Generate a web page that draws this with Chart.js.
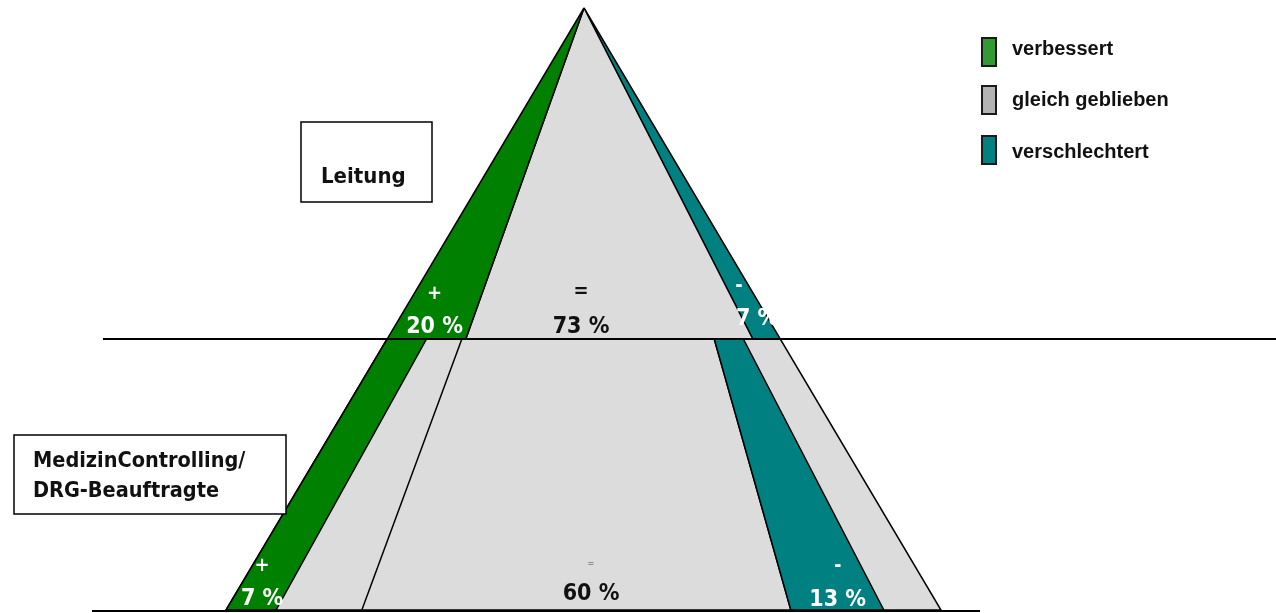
<!DOCTYPE html>
<html>
<head>
<meta charset="utf-8">
<script src="https://cdn.jsdelivr.net/npm/chart.js@4/dist/chart.umd.min.js"></script>
<style>
  html, body { margin: 0; padding: 0; background: #fff; }
  #wrap { width: 1276px; height: 613px; }
</style>
</head>
<body>
<div id="wrap"><canvas id="pyr" width="1276" height="613"></canvas></div>
<script>
/* ---- data ------------------------------------------------------ */
const tierBoxes    = [['Leitung'], ['MedizinControlling/', 'DRG-Beauftragte']];
const improved     = [20, 7];    // verbessert  (%)
const same         = [73, 60];   // gleich geblieben (%)
const worse        = [7, 13];    // verschlechtert (%)
const legendLabels = ['verbessert', 'gleich geblieben', 'verschlechtert'];

/* ---- layout (chart units == px, axes hidden) --------------------- */
const APEX   = { x: 584, y: 8 };
const SEAM_Y = 339, BASE_Y = 610;
const BASE_L = 226, BASE_R = 941;
const LEFT_REST = 0.6;                          // part of the unassigned rest drawn left
const SEAM_CUT  = [0, .10, .19, .832, .906, 1]; // band stops of lower tier at its top edge

const C_GREEN = '#008000', C_GRAY = '#dcdcdc', C_TEAL = '#008080';

const edgeL = y => APEX.x + (BASE_L - APEX.x) * (y - APEX.y) / (BASE_Y - APEX.y);
const edgeR = y => APEX.x + (BASE_R - APEX.x) * (y - APEX.y) / (BASE_Y - APEX.y);
const at    = (y, f) => edgeL(y) + (edgeR(y) - edgeL(y)) * f;
const pt    = (x, y) => ({ x, y });

/* upper tier: all bands start at the apex */
const upStops = [0, improved[0] / 100, (improved[0] + same[0]) / 100, 1];
/* lower tier: stops at the base */
const rest     = 100 - improved[1] - same[1] - worse[1];
const lowStops = [0, improved[1], improved[1] + rest * LEFT_REST,
                  improved[1] + rest * LEFT_REST + same[1],
                  improved[1] + rest * LEFT_REST + same[1] + worse[1], 100].map(v => v / 100);

const upBand  = i => [pt(APEX.x, APEX.y), pt(at(SEAM_Y, upStops[i]), SEAM_Y),
                      pt(at(SEAM_Y, upStops[i + 1]), SEAM_Y), pt(APEX.x, APEX.y)];
const lowBand = (a, b) => [pt(at(SEAM_Y, SEAM_CUT[a]), SEAM_Y), pt(at(SEAM_Y, SEAM_CUT[b]), SEAM_Y),
                           pt(at(BASE_Y, lowStops[b]), BASE_Y), pt(at(BASE_Y, lowStops[a]), BASE_Y),
                           pt(at(SEAM_Y, SEAM_CUT[a]), SEAM_Y)];

const shape = (data, fill, order) => ({
  data, order, showLine: true, fill: 'shape', backgroundColor: fill,
  borderColor: '#000', borderWidth: 1.5, pointRadius: 0, tension: 0
});
const rule = (x1, x2, y) => ({
  data: [pt(x1, y), pt(x2, y)], order: 0, showLine: true, fill: false,
  borderColor: '#000', borderWidth: 1.8, pointRadius: 0
});

const datasets = [
  rule(103, 1276, SEAM_Y),
  rule(92, 980, BASE_Y + 1),
  shape(upBand(0), C_GREEN, 1),
  shape(upBand(1), C_GRAY, 1),
  shape(upBand(2), C_TEAL, 1),
  shape(lowBand(0, 1), C_GREEN, 1),
  shape(lowBand(2, 3), C_GRAY, 2),
  shape(lowBand(3, 4), C_TEAL, 1),
  shape(lowBand(0, 5), C_GRAY, 3)
];

/* ---- annotations: labels, boxes, legend -------------------------- */
const COND     = '"DejaVu Sans Condensed", "DejaVu Sans", sans-serif';
const PCT_FONT = 'bold 23px ' + COND;

const annotate = {
  id: 'annotate',
  beforeDraw(chart) {
    const c = chart.ctx;
    c.save(); c.fillStyle = '#fff'; c.fillRect(0, 0, chart.width, chart.height); c.restore();
  },
  afterDraw(chart) {
    const c = chart.ctx, sx = chart.scales.x, sy = chart.scales.y;
    const X = v => sx.getPixelForValue(v), Y = v => sy.getPixelForValue(v);
    c.save();
    c.textAlign = 'center'; c.textBaseline = 'alphabetic';

    // sign above, value below (value given as baseline)
    const pair = (x, signY, valY, sign, val, col, small) => {
      c.textBaseline = 'middle';
      c.fillStyle = small ? '#8a8a8a' : col;
      c.font = small ? 'bold 9px ' + COND : 'bold 20px ' + COND;
      c.fillText(sign, X(x), Y(signY));
      c.textBaseline = 'alphabetic';
      c.fillStyle = col; c.font = PCT_FONT;
      c.fillText(val + ' %', X(x), Y(valY));
    };
    const lerpLow = (i, y) => at(SEAM_Y, SEAM_CUT[i]) +
      (at(BASE_Y, lowStops[i]) - at(SEAM_Y, SEAM_CUT[i])) * (y - SEAM_Y) / (BASE_Y - SEAM_Y);
    const upLine = (i, y) => APEX.x + (at(SEAM_Y, upStops[i]) - APEX.x) * (y - APEX.y) / (SEAM_Y - APEX.y);

    // upper tier
    pair((upLine(0, 322) + upLine(1, 322)) / 2, 294, 333, '+', improved[0], '#fff');
    pair(APEX.x - 3, 292, 333, '=', same[0], '#111');
    c.fillStyle = '#fff'; c.font = 'bold 20px ' + COND; c.textBaseline = 'middle';
    c.fillText('-', X(739), Y(286));
    c.textAlign = 'left'; c.textBaseline = 'alphabetic'; c.font = PCT_FONT;
    c.fillText(worse[0] + ' %', X(736), Y(325));
    c.textAlign = 'center';

    // lower tier
    pair((lerpLow(0, 596) + lerpLow(1, 596)) / 2 + 3, 566, 605, '+', improved[1], '#fff');
    pair(591, 564, 600, '=', same[1], '#111', true);
    pair((lerpLow(3, 596) + lerpLow(4, 596)) / 2 + 6, 566, 606, '-', worse[1], '#fff');

    // tier boxes
    c.textAlign = 'left'; c.strokeStyle = '#000'; c.lineWidth = 1.5;
    const boxes = [{ x: 301, y: 122, w: 131, h: 80, tx: 321, ty: [183], fs: 22 },
                   { x: 14, y: 435, w: 272, h: 79, tx: 33, ty: [467, 497], fs: 21.5 }];
    boxes.forEach((b, i) => {
      c.fillStyle = '#fff'; c.fillRect(X(b.x), Y(b.y), b.w, b.h);
      c.strokeRect(X(b.x), Y(b.y), b.w, b.h);
      c.fillStyle = '#111'; c.font = 'bold ' + b.fs + 'px ' + COND;
      tierBoxes[i].forEach((t, k) => c.fillText(t, X(b.tx), Y(b.ty[k])));
    });

    // legend
    const legCols = ['#339933', '#b3b3b3', '#008080'];
    const markTop = [38, 86, 136], textBase = [55, 106, 158];
    c.font = 'bold 20px "Liberation Sans", Arial, sans-serif';
    legendLabels.forEach((t, i) => {
      c.fillStyle = legCols[i]; c.fillRect(X(982), Y(markTop[i]), 14, 28);
      c.strokeStyle = '#1a1a1a'; c.lineWidth = 2; c.strokeRect(X(982), Y(markTop[i]), 14, 28);
      c.fillStyle = '#111'; c.fillText(t, X(1012), Y(textBase[i]));
    });
    c.restore();
  }
};

new Chart(document.getElementById('pyr'), {
  type: 'scatter',
  data: { datasets },
  options: {
    responsive: false, animation: false, events: [],
    layout: { padding: 0 },
    plugins: { legend: { display: false }, tooltip: { enabled: false } },
    scales: {
      x: { type: 'linear', min: 0, max: 1276, display: false },
      y: { type: 'linear', min: 0, max: 613, reverse: true, display: false }
    }
  },
  plugins: [annotate]
});
</script>
</body>
</html>
